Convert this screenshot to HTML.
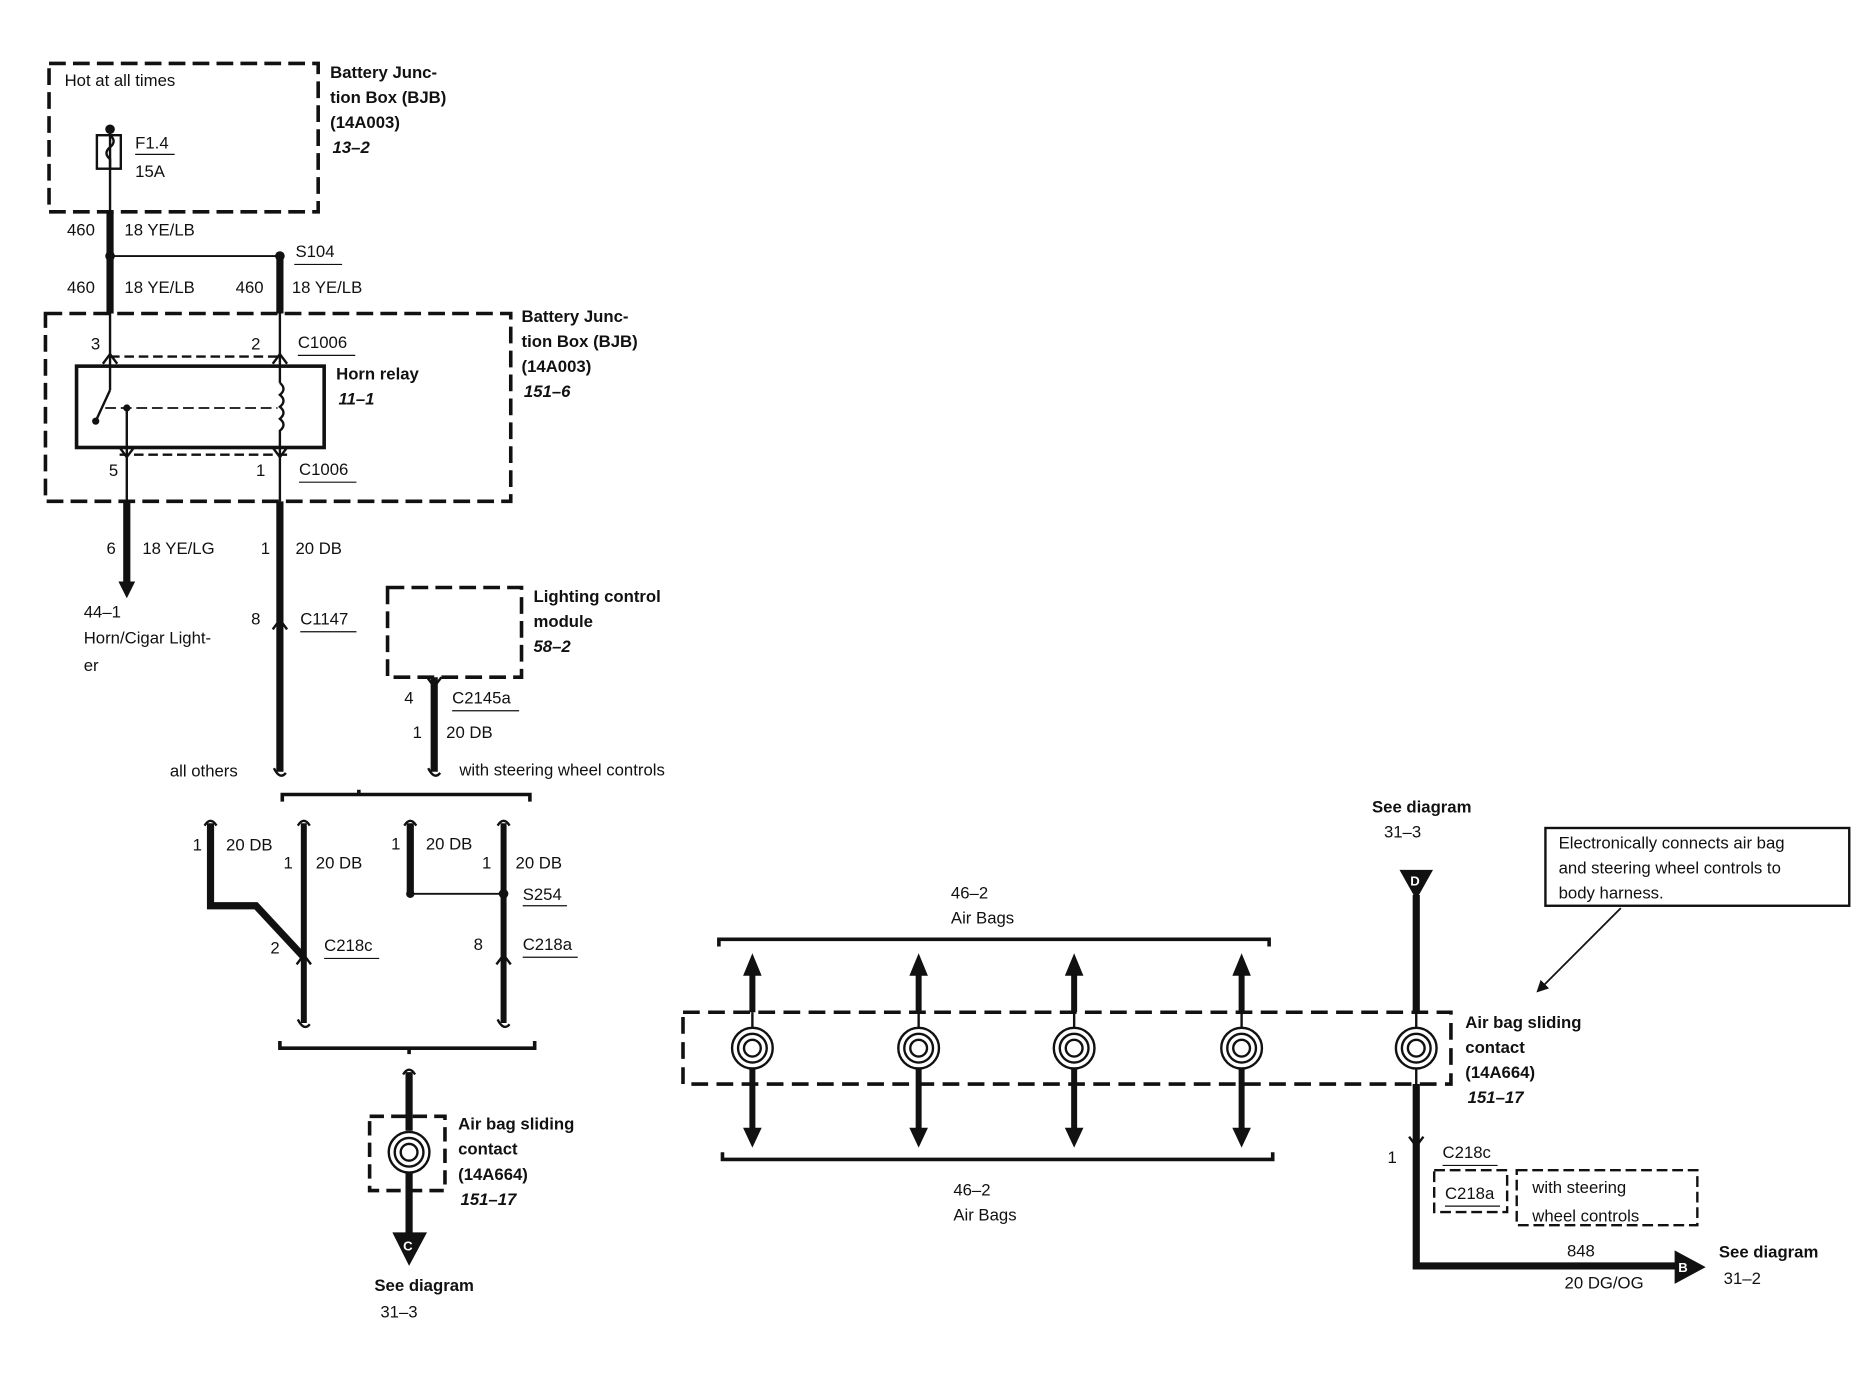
<!DOCTYPE html>
<html><head><meta charset="utf-8"><style>
html,body{margin:0;padding:0;background:#fff}
svg{display:block}
text{font-family:"Liberation Sans",sans-serif;font-size:14px;fill:#111}
.b{font-weight:bold}
.bi{font-weight:bold;font-style:italic}
</style></head><body>
<svg width="1866" height="1376" viewBox="0 0 1560 1150" preserveAspectRatio="none" xmlns="http://www.w3.org/2000/svg">
<defs>
<marker id="ah" markerWidth="10" markerHeight="10" refX="5" refY="5" orient="auto" markerUnits="userSpaceOnUse"><path d="M0,0 L10,5 L0,10 z" fill="#111"/></marker>
</defs>
<g fill="none" stroke="#111">
<rect x="41" y="53" width="225" height="124" stroke-width="3" stroke-dasharray="14,6"/>
<line x1="92" y1="108" x2="92" y2="177" stroke-width="2"/>
<rect x="81" y="113" width="20" height="28" stroke-width="2"/>
<path d="M92,113 q6,5 0,10 q-6,5 0,10 l0,8" stroke-width="2"/>
<line x1="92" y1="177" x2="92" y2="262" stroke-width="6"/>
<line x1="92" y1="214" x2="234" y2="214" stroke-width="1.5"/>
<line x1="234" y1="214" x2="234" y2="262" stroke-width="6"/>
<line x1="113" y1="129" x2="146" y2="129" stroke-width="1"/>
<line x1="246" y1="221" x2="286" y2="221" stroke-width="1"/>
<rect x="38" y="262" width="389" height="157" stroke-width="3" stroke-dasharray="14,6"/>
<line x1="92" y1="262" x2="92" y2="326" stroke-width="2"/>
<line x1="234" y1="262" x2="234" y2="320" stroke-width="2"/>
<line x1="92" y1="298" x2="234" y2="298" stroke-width="2" stroke-dasharray="8,4"/>
<path d="M86,304 L92,296 L98,304 M228,304 L234,296 L240,304" stroke-width="2"/>
<rect x="64" y="306" width="207" height="68" stroke-width="3"/>
<line x1="92" y1="326" x2="80" y2="352" stroke-width="2"/>
<line x1="88" y1="341" x2="232" y2="341" stroke-width="1.5" stroke-dasharray="9,4"/>
<line x1="106" y1="341" x2="106" y2="419" stroke-width="2"/>
<path d="M234,320 q6,5 0,10 q6,5 0,10 q6,5 0,10 q6,5 0,10 l0,59" stroke-width="2"/>
<line x1="100" y1="380" x2="240" y2="380" stroke-width="2" stroke-dasharray="8,4"/>
<path d="M100,374 L106,382 L112,374 M228,374 L234,382 L240,374" stroke-width="2"/>
<line x1="249" y1="297" x2="297" y2="297" stroke-width="1"/>
<line x1="250" y1="403" x2="298" y2="403" stroke-width="1"/>
<line x1="106" y1="419" x2="106" y2="488" stroke-width="6"/>
<path d="M99,486 L113,486 L106,500 z" fill="#111" stroke="none"/>
<line x1="234" y1="419" x2="234" y2="645" stroke-width="6"/>
<path d="M228,526 L234,518 L240,526" stroke-width="2"/>
<path d="M229,642 q5,10 10,4" stroke-width="2"/>
<line x1="251" y1="528" x2="298" y2="528" stroke-width="1"/>
<rect x="324" y="491" width="112" height="75" stroke-width="3" stroke-dasharray="14,6"/>
<line x1="363" y1="566" x2="363" y2="645" stroke-width="6"/>
<path d="M357,566 L363,574 L369,566" stroke-width="2"/>
<path d="M358,642 q5,10 10,4" stroke-width="2"/>
<line x1="378" y1="594" x2="434" y2="594" stroke-width="1"/>
<path d="M236,670 L236,664 L443,664 L443,670 M300,664 L300,660" stroke-width="3"/>
<path d="M176,688 L176,757 L214,757 L254,800" stroke-width="6"/>
<line x1="254" y1="688" x2="254" y2="855" stroke-width="5"/>
<line x1="343" y1="688" x2="343" y2="747" stroke-width="6"/>
<line x1="421" y1="688" x2="421" y2="855" stroke-width="5"/>
<line x1="343" y1="747" x2="421" y2="747" stroke-width="1.5"/>
<path d="M171,690 q5,-8 10,0 M249,690 q5,-8 10,0 M338,690 q5,-8 10,0 M416,690 q5,-8 10,0" stroke-width="2"/>
<path d="M248,806 L254,798 L260,806 M415,806 L421,798 L427,806" stroke-width="2"/>
<path d="M249,852 q5,10 10,4 M416,852 q5,10 10,4" stroke-width="2"/>
<line x1="437" y1="757" x2="474" y2="757" stroke-width="1"/>
<line x1="271" y1="801" x2="317" y2="801" stroke-width="1"/>
<line x1="437" y1="800" x2="483" y2="800" stroke-width="1"/>
<path d="M234,870 L234,876 L447,876 L447,870 M342,876 L342,881" stroke-width="3"/>
<line x1="342" y1="896" x2="342" y2="945" stroke-width="6"/>
<path d="M337,898 q5,-8 10,0" stroke-width="2"/>
<rect x="309" y="933" width="63" height="62" stroke-width="3" stroke-dasharray="12,6"/>
<circle cx="342" cy="963" r="17" stroke-width="2"/>
<circle cx="342" cy="963" r="12" stroke-width="2"/>
<circle cx="342" cy="963" r="7" stroke-width="2"/>
<line x1="342" y1="980" x2="342" y2="1035" stroke-width="6"/>
<path d="M328,1030 L357,1030 L342,1058 z" fill="#111" stroke="none"/>
<path d="M601,791 L601,785 L1061,785 L1061,791" stroke-width="3"/>
<path d="M604,963 L604,969 L1064,969 L1064,963" stroke-width="3"/>
<rect x="571" y="846" width="642" height="60" stroke-width="3" stroke-dasharray="14,7"/>
</g>
<g stroke="#111" fill="none">
<g transform="translate(629,0)"><line x1="0" y1="812" x2="0" y2="846" stroke-width="5"/><path d="M-7,815 L0,798 L7,815 z" fill="#111"/><line x1="0" y1="846" x2="0" y2="859" stroke-width="2"/><circle cx="0" cy="876" r="17" stroke-width="2"/><circle cx="0" cy="876" r="12" stroke-width="2"/><circle cx="0" cy="876" r="7" stroke-width="2"/><line x1="0" y1="893" x2="0" y2="945" stroke-width="5"/><path d="M-7,943 L0,958 L7,943 z" fill="#111"/></g>
<g transform="translate(768,0)"><line x1="0" y1="812" x2="0" y2="846" stroke-width="5"/><path d="M-7,815 L0,798 L7,815 z" fill="#111"/><line x1="0" y1="846" x2="0" y2="859" stroke-width="2"/><circle cx="0" cy="876" r="17" stroke-width="2"/><circle cx="0" cy="876" r="12" stroke-width="2"/><circle cx="0" cy="876" r="7" stroke-width="2"/><line x1="0" y1="893" x2="0" y2="945" stroke-width="5"/><path d="M-7,943 L0,958 L7,943 z" fill="#111"/></g>
<g transform="translate(898,0)"><line x1="0" y1="812" x2="0" y2="846" stroke-width="5"/><path d="M-7,815 L0,798 L7,815 z" fill="#111"/><line x1="0" y1="846" x2="0" y2="859" stroke-width="2"/><circle cx="0" cy="876" r="17" stroke-width="2"/><circle cx="0" cy="876" r="12" stroke-width="2"/><circle cx="0" cy="876" r="7" stroke-width="2"/><line x1="0" y1="893" x2="0" y2="945" stroke-width="5"/><path d="M-7,943 L0,958 L7,943 z" fill="#111"/></g>
<g transform="translate(1038,0)"><line x1="0" y1="812" x2="0" y2="846" stroke-width="5"/><path d="M-7,815 L0,798 L7,815 z" fill="#111"/><line x1="0" y1="846" x2="0" y2="859" stroke-width="2"/><circle cx="0" cy="876" r="17" stroke-width="2"/><circle cx="0" cy="876" r="12" stroke-width="2"/><circle cx="0" cy="876" r="7" stroke-width="2"/><line x1="0" y1="893" x2="0" y2="945" stroke-width="5"/><path d="M-7,943 L0,958 L7,943 z" fill="#111"/></g>
<g transform="translate(1184,0)"><line x1="0" y1="748" x2="0" y2="846" stroke-width="6"/><line x1="0" y1="846" x2="0" y2="859" stroke-width="2"/><circle cx="0" cy="876" r="17" stroke-width="2"/><circle cx="0" cy="876" r="12" stroke-width="2"/><circle cx="0" cy="876" r="7" stroke-width="2"/><line x1="0" y1="893" x2="0" y2="906" stroke-width="2"/></g>
<path d="M1184,906 L1184,1058 L1402,1058" stroke-width="6"/>
<path d="M1178,950 L1184,958 L1190,950" stroke-width="2"/>
<path d="M1170,727 L1198,727 L1184,752 z" fill="#111" stroke="none"/>
<path d="M1400,1045 L1400,1073 L1426,1059 z" fill="#111" stroke="none"/>
<rect x="1292" y="692" width="254" height="65" stroke-width="2"/>
<line x1="1355" y1="759" x2="1288" y2="826" stroke-width="1.5" marker-end="url(#ah)"/>
<rect x="1199" y="978" width="61" height="35" stroke-width="2" stroke-dasharray="9,4"/>
<rect x="1268" y="978" width="151" height="46" stroke-width="2" stroke-dasharray="9,4"/>
<line x1="1206" y1="974" x2="1252" y2="974" stroke-width="1"/>
<line x1="1208" y1="1008" x2="1254" y2="1008" stroke-width="1"/>
</g>
<text style="fill:#fff;font-size:11px" class="b" x="1179" y="740">D</text>
<text style="fill:#fff;font-size:11px" class="b" x="1403" y="1063">B</text>
<text style="fill:#fff;font-size:11px" class="b" x="337" y="1045">C</text>
<text x="54" y="72">Hot at all times</text>
<text x="113" y="124">F1.4</text>
<text x="113" y="148">15A</text>
<text class="b" x="276" y="65">Battery Junc-</text>
<text class="b" x="276" y="86">tion Box (BJB)</text>
<text class="b" x="276" y="107">(14A003)</text>
<text class="bi" x="278" y="128">13–2</text>
<text x="56" y="197">460</text><text x="104" y="197">18 YE/LB</text>
<text x="247" y="215">S104</text>
<text x="56" y="245">460</text><text x="104" y="245">18 YE/LB</text>
<text x="197" y="245">460</text><text x="244" y="245">18 YE/LB</text>
<text x="76" y="292">3</text><text x="210" y="292">2</text><text x="249" y="291">C1006</text>
<text class="b" x="281" y="317">Horn relay</text>
<text class="bi" x="283" y="338">11–1</text>
<text x="91" y="398">5</text><text x="214" y="398">1</text><text x="250" y="397">C1006</text>
<text class="b" x="436" y="269">Battery Junc-</text>
<text class="b" x="436" y="290">tion Box (BJB)</text>
<text class="b" x="436" y="311">(14A003)</text>
<text class="bi" x="438" y="332">151–6</text>
<text x="89" y="463">6</text><text x="119" y="463">18 YE/LG</text>
<text x="218" y="463">1</text><text x="247" y="463">20 DB</text>
<text x="70" y="516">44–1</text>
<text x="70" y="538">Horn/Cigar Light-</text>
<text x="70" y="561">er</text>
<text x="210" y="522">8</text><text x="251" y="522">C1147</text>
<text class="b" x="446" y="503">Lighting control</text>
<text class="b" x="446" y="524">module</text>
<text class="bi" x="446" y="545">58–2</text>
<text x="338" y="588">4</text><text x="378" y="588">C2145a</text>
<text x="345" y="617">1</text><text x="373" y="617">20 DB</text>
<text x="142" y="649">all others</text>
<text x="384" y="648">with steering wheel controls</text>
<text x="161" y="711">1</text><text x="189" y="711">20 DB</text>
<text x="237" y="726">1</text><text x="264" y="726">20 DB</text>
<text x="327" y="710">1</text><text x="356" y="710">20 DB</text>
<text x="403" y="726">1</text><text x="431" y="726">20 DB</text>
<text x="437" y="752">S254</text>
<text x="226" y="797">2</text><text x="271" y="795">C218c</text>
<text x="396" y="794">8</text><text x="437" y="794">C218a</text>
<text class="b" x="383" y="944">Air bag sliding</text>
<text class="b" x="383" y="965">contact</text>
<text class="b" x="383" y="986">(14A664)</text>
<text class="bi" x="385" y="1007">151–17</text>
<text class="b" x="313" y="1079">See diagram</text>
<text x="318" y="1101">31–3</text>
<text class="b" x="1147" y="679">See diagram</text>
<text x="1157" y="700">31–3</text>
<text x="795" y="751">46–2</text><text x="795" y="772">Air Bags</text>
<text x="797" y="999">46–2</text><text x="797" y="1020">Air Bags</text>
<text x="1303" y="709">Electronically connects air bag</text>
<text x="1303" y="730">and steering wheel controls to</text>
<text x="1303" y="751">body harness.</text>
<text class="b" x="1225" y="859">Air bag sliding</text>
<text class="b" x="1225" y="880">contact</text>
<text class="b" x="1225" y="901">(14A664)</text>
<text class="bi" x="1227" y="922">151–17</text>
<text x="1160" y="972">1</text>
<text x="1206" y="968">C218c</text>
<text x="1208" y="1002">C218a</text>
<text x="1281" y="997">with steering</text>
<text x="1281" y="1021">wheel controls</text>
<text x="1310" y="1050">848</text>
<text x="1308" y="1077">20 DG/OG</text>
<text class="b" x="1437" y="1051">See diagram</text>
<text x="1441" y="1073">31–2</text>
<g fill="#111">
<circle cx="92" cy="108" r="4"/><circle cx="92" cy="214" r="4"/><circle cx="234" cy="214" r="4"/>
<circle cx="80" cy="352" r="3"/><circle cx="106" cy="341" r="3"/>
<circle cx="343" cy="747" r="3.5"/><circle cx="421" cy="747" r="4"/>
</g>
</svg>
</body></html>
